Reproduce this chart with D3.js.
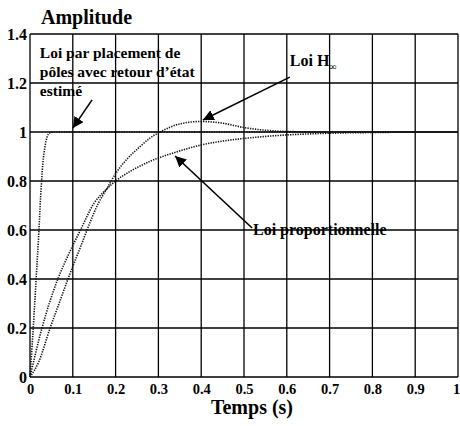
<!DOCTYPE html>
<html>
<head>
<meta charset="utf-8">
<script src="https://cdn.jsdelivr.net/npm/d3@7"></script>
<style>
  html, body { margin: 0; padding: 0; background: #fff; }
  svg { display: block; }
  svg text { font-family: "Times New Roman", "Liberation Serif", "DejaVu Serif", serif !important; font-weight: bold; fill: #000; }
</style>
</head>
<body>
<svg id="chart" width="460" height="426" font-family="Liberation Serif, serif"></svg>
<script>
// Step responses: time (s) and amplitude for each control law
const tPoles = [0, 0.005, 0.01, 0.015, 0.02, 0.025, 0.03, 0.035, 0.04, 0.045, 0.05, 0.06, 1.0];
const yPoles = [0, 0.13, 0.27, 0.42, 0.57, 0.74, 0.87, 0.94, 0.98, 0.995, 1.0, 1.0, 1.0];

const tHinf = [0, 0.02, 0.047, 0.07, 0.093, 0.12, 0.14, 0.16, 0.18, 0.2, 0.227, 0.257, 0.28, 0.304, 0.35, 0.4, 0.45, 0.5, 0.545, 0.6, 0.7, 1.0];
const yHinf = [0, 0.06, 0.2, 0.31, 0.42, 0.54, 0.63, 0.71, 0.77, 0.83, 0.89, 0.94, 0.975, 1.0, 1.033, 1.043, 1.036, 1.018, 1.008, 1.002, 1.0, 1.0];

const tProp = [0, 0.028, 0.065, 0.09, 0.118, 0.15, 0.175, 0.2, 0.24, 0.28, 0.334, 0.4, 0.467, 0.507, 0.6, 0.7, 0.8, 1.0];
const yProp = [0, 0.2, 0.4, 0.5, 0.6, 0.71, 0.76, 0.8, 0.845, 0.88, 0.914, 0.947, 0.967, 0.975, 0.988, 0.995, 0.998, 1.0];

const xTicks = [0, 0.1, 0.2, 0.3, 0.4, 0.5, 0.6, 0.7, 0.8, 0.9, 1];
const yTicks = [0, 0.2, 0.4, 0.6, 0.8, 1, 1.2, 1.4];

const svg = d3.select("#chart");
const plot = { left: 30, right: 458, top: 34, bottom: 377 };

const x = d3.scaleLinear().domain([0, 1]).range([plot.left, plot.right]);
const y = d3.scaleLinear().domain([0, 1.4]).range([plot.bottom, plot.top]);

// Grid (solid black, grid on)
const grid = svg.append("g").attr("stroke", "#000").attr("stroke-width", 1.3);
grid.selectAll("line.v").data(xTicks).join("line")
  .attr("x1", d => x(d)).attr("x2", d => x(d))
  .attr("y1", plot.top).attr("y2", plot.bottom);
grid.selectAll("line.h").data(yTicks).join("line")
  .attr("y1", d => y(d)).attr("y2", d => y(d))
  .attr("x1", plot.left).attr("x2", plot.right);

// Axes: tick labels only, the grid supplies the lines
const fmt = d => (d === 0 || d === 1) ? String(d) : d3.format(".1f")(d);
const xAxis = d3.axisBottom(x).tickValues(xTicks).tickFormat(fmt).tickSize(0).tickPadding(0);
const yAxis = d3.axisLeft(y).tickValues(yTicks).tickFormat(fmt).tickSize(0).tickPadding(0);

const gx = svg.append("g").attr("transform", `translate(0,${plot.bottom})`).call(xAxis)
  .attr("font-family", null);
gx.select(".domain").remove();
gx.selectAll("text").attr("dy", null).attr("y", 17).style("font-size", "14.5px")
  .attr("x", d => d === 1 ? -2 : 0);

const gy = svg.append("g").attr("transform", `translate(${plot.left - 3},0)`).call(yAxis)
  .attr("font-family", null);
gy.select(".domain").remove();
gy.selectAll("text").attr("dy", "0.35em").attr("x", 0).style("font-size", "16px");

// Curves (dotted)
const line = d3.line().x(d => x(d[0])).y(d => y(d[1])).curve(d3.curveMonotoneX);
const series = [
  d3.zip(tPoles, yPoles),
  d3.zip(tHinf, yHinf),
  d3.zip(tProp, yProp)
];
svg.append("g").selectAll("path").data(series).join("path")
  .attr("d", line)
  .attr("fill", "none")
  .attr("stroke", "#111")
  .attr("stroke-width", 1.6)
  .attr("stroke-dasharray", "1.3 1.2");

// Titles
svg.append("text").attr("x", 41).attr("y", 24).style("font-size", "20px").text("Amplitude");
svg.append("text").attr("x", (plot.left + plot.right) / 2 + 8).attr("y", 414)
  .attr("text-anchor", "middle").style("font-size", "20px").text("Temps (s)");

// Annotations with arrows
const defs = svg.append("defs");
defs.append("marker").attr("id", "head").attr("viewBox", "0 0 10 10")
  .attr("refX", 10).attr("refY", 5).attr("markerWidth", 11).attr("markerHeight", 11)
  .attr("markerUnits", "userSpaceOnUse").attr("orient", "auto")
  .append("path").attr("d", "M0,0 L10,5 L0,10 z").attr("fill", "#000");

const arrows = [
  { from: [0.145, 1.131], to: [0.100, 1.016] },
  { from: [0.607, 1.224], to: [0.404, 1.049] },
  { from: [0.519, 0.608], to: [0.339, 0.902] }
];
svg.append("g").selectAll("line").data(arrows).join("line")
  .attr("x1", d => x(d.from[0])).attr("y1", d => y(d.from[1]))
  .attr("x2", d => x(d.to[0])).attr("y2", d => y(d.to[1]))
  .attr("stroke", "#000").attr("stroke-width", 1.6)
  .attr("marker-end", "url(#head)");

const poleLines = ["Loi par placement de", "pôles avec retour d’état", "estimé"];
svg.append("text").attr("x", x(0.023)).attr("y", y(1.302)).style("font-size", "15.5px")
  .selectAll("tspan").data(poleLines).join("tspan")
  .attr("x", x(0.023)).attr("dy", (d, i) => i === 0 ? 0 : 19).text(d => d);

const hinf = svg.append("text").attr("x", x(0.607)).attr("y", y(1.27)).style("font-size", "16px");
hinf.append("tspan").text("Loi H");
hinf.append("tspan").attr("dy", 4).style("font-size", "10px").text("∞");

svg.append("text").attr("x", x(0.521)).attr("y", y(0.58)).style("font-size", "16px")
  .text("Loi proportionnelle");
</script>
</body>
</html>
